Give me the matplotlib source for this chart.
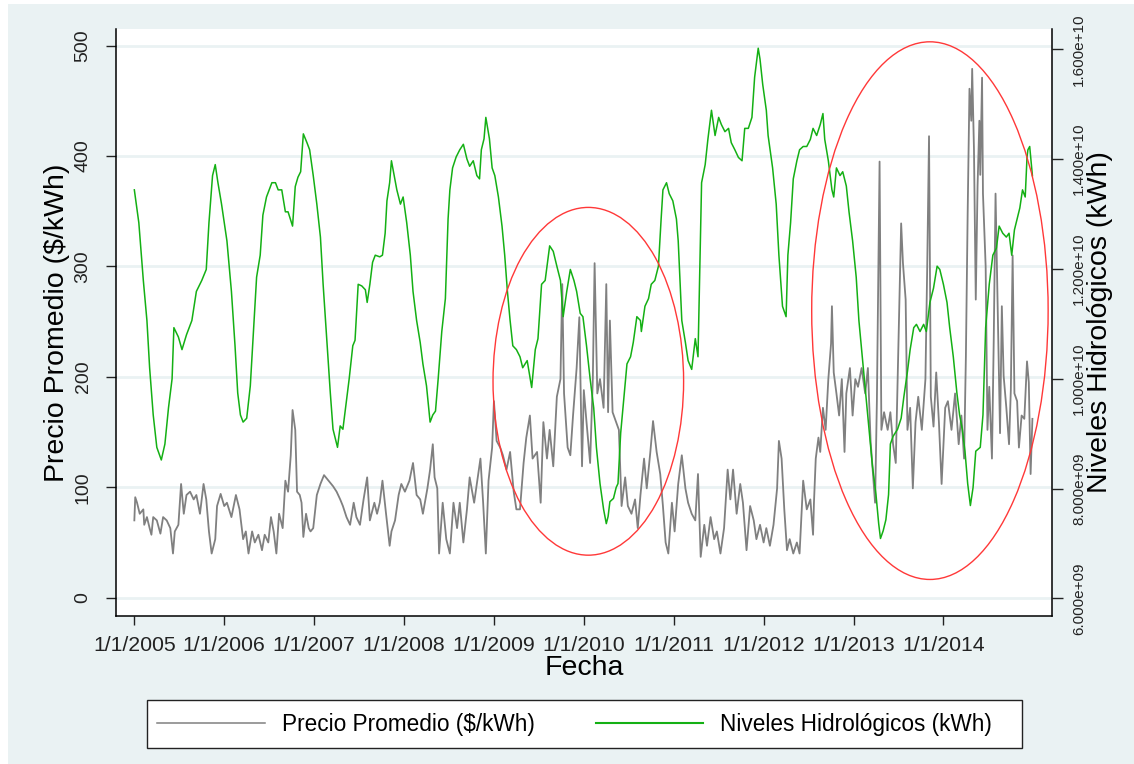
import numpy as np
import pandas as pd
import matplotlib
matplotlib.use("Agg")
import matplotlib.pyplot as plt
import matplotlib.dates as mdates
from matplotlib.patches import Ellipse, Rectangle
from matplotlib.lines import Line2D

plt.rcParams["font.family"] = ["Liberation Sans", "DejaVu Sans"]

# precio promedio ($/kWh), fechas en años decimales
precio_t = [
    2005.00, 2005.01, 2005.03, 2005.06, 2005.10, 2005.11, 2005.14, 2005.17, 2005.19, 2005.21,
    2005.25, 2005.29, 2005.32, 2005.36, 2005.40, 2005.43, 2005.45, 2005.49, 2005.52, 2005.55,
    2005.58, 2005.62, 2005.66, 2005.69, 2005.73, 2005.77, 2005.80, 2005.83, 2005.86, 2005.90,
    2005.92, 2005.96, 2006.00, 2006.03, 2006.08, 2006.13, 2006.17, 2006.21, 2006.24, 2006.27,
    2006.31, 2006.34, 2006.38, 2006.42, 2006.45, 2006.49, 2006.52, 2006.55, 2006.58, 2006.61,
    2006.65, 2006.68, 2006.71, 2006.74, 2006.76, 2006.79, 2006.81, 2006.84, 2006.86, 2006.88,
    2006.91, 2006.94, 2006.96, 2006.99, 2007.03, 2007.07, 2007.11, 2007.16, 2007.21, 2007.25,
    2007.29, 2007.32, 2007.36, 2007.40, 2007.44, 2007.47, 2007.51, 2007.55, 2007.59, 2007.62,
    2007.67, 2007.70, 2007.73, 2007.76, 2007.80, 2007.84, 2007.86, 2007.90, 2007.94, 2007.97,
    2008.01, 2008.06, 2008.10, 2008.14, 2008.18, 2008.21, 2008.26, 2008.29, 2008.32, 2008.34,
    2008.37, 2008.39, 2008.43, 2008.47, 2008.51, 2008.55, 2008.59, 2008.62, 2008.66, 2008.70,
    2008.73, 2008.78, 2008.81, 2008.85, 2008.88, 2008.91, 2008.94, 2008.98, 2009.00, 2009.03,
    2009.07, 2009.10, 2009.14, 2009.18, 2009.22, 2009.25, 2009.29, 2009.33, 2009.36, 2009.40,
    2009.43, 2009.48, 2009.52, 2009.55, 2009.59, 2009.62, 2009.66, 2009.70, 2009.74, 2009.76,
    2009.78, 2009.82, 2009.85, 2009.88, 2009.92, 2009.95, 2009.98, 2010.00, 2010.03, 2010.07,
    2010.10, 2010.12, 2010.15, 2010.18, 2010.22, 2010.25, 2010.27, 2010.29, 2010.32, 2010.36,
    2010.39, 2010.42, 2010.46, 2010.49, 2010.53, 2010.57, 2010.60, 2010.63, 2010.67, 2010.70,
    2010.74, 2010.77, 2010.81, 2010.85, 2010.88, 2010.91, 2010.94, 2010.98, 2011.01, 2011.05,
    2011.09, 2011.13, 2011.16, 2011.20, 2011.24, 2011.27, 2011.30, 2011.34, 2011.37, 2011.41,
    2011.45, 2011.48, 2011.52, 2011.56, 2011.60, 2011.63, 2011.66, 2011.70, 2011.74, 2011.77,
    2011.81, 2011.85, 2011.89, 2011.92, 2011.96, 2012.00, 2012.03, 2012.07, 2012.11, 2012.15,
    2012.17, 2012.20, 2012.23, 2012.26, 2012.29, 2012.33, 2012.37, 2012.40, 2012.44, 2012.48,
    2012.52, 2012.55, 2012.56, 2012.58, 2012.61, 2012.63, 2012.66, 2012.69, 2012.72, 2012.75,
    2012.76, 2012.78, 2012.81, 2012.84, 2012.87, 2012.90, 2012.92, 2012.96, 2012.99, 2013.02,
    2013.05, 2013.09, 2013.13, 2013.16, 2013.19, 2013.22, 2013.24, 2013.26, 2013.29, 2013.31,
    2013.34, 2013.38, 2013.41, 2013.44, 2013.47, 2013.50, 2013.53, 2013.55, 2013.58, 2013.60,
    2013.63, 2013.66, 2013.69, 2013.72, 2013.76, 2013.80, 2013.82, 2013.84, 2013.86, 2013.89,
    2013.92, 2013.95, 2013.98, 2014.02, 2014.05, 2014.09, 2014.13, 2014.17, 2014.20, 2014.23,
    2014.25, 2014.27, 2014.29, 2014.31, 2014.32, 2014.34, 2014.36, 2014.38, 2014.40, 2014.41,
    2014.43, 2014.44, 2014.47, 2014.49, 2014.51, 2014.54, 2014.56, 2014.58, 2014.60, 2014.63,
    2014.65, 2014.67, 2014.70, 2014.73, 2014.75, 2014.77, 2014.79, 2014.82, 2014.84, 2014.87,
    2014.90, 2014.93, 2014.95, 2014.97, 2014.99,
]
precio = [
    70, 91, 86, 76, 80, 66, 73, 63, 57, 73,
    70, 58, 73, 70, 63, 40, 60, 66, 103, 76,
    93, 96, 89, 93, 76, 103, 89, 60, 40, 53,
    83, 94, 83, 86, 73, 93, 80, 53, 60, 40,
    60, 50, 57, 43, 57, 50, 73, 60, 40, 76,
    63, 106, 96, 129, 170, 152, 96, 93, 86, 55,
    76, 63, 60, 63, 93, 103, 111, 106, 101, 96,
    89, 83, 73, 66, 86, 73, 66, 89, 109, 70,
    86, 76, 86, 106, 76, 47, 60, 70, 93, 103,
    96, 106, 122, 93, 89, 76, 99, 116, 139, 109,
    99, 40, 86, 53, 40, 86, 63, 86, 50, 80,
    109, 86, 103, 126, 86, 40, 106, 136, 178, 142,
    136, 129, 116, 132, 96, 80, 80, 122, 145, 165,
    126, 132, 86, 159, 126, 152, 119, 182, 198, 284,
    185, 136, 129, 165, 208, 254, 119, 188, 159, 122,
    198, 303, 185, 198, 172, 284, 168, 251, 168, 159,
    152, 83, 109, 83, 76, 89, 63, 93, 126, 99,
    132, 160, 132, 112, 83, 50, 40, 86, 60, 103,
    129, 99, 86, 76, 70, 112, 37, 66, 47, 73,
    53, 60, 40, 63, 116, 89, 116, 76, 103, 86,
    43, 83, 70, 53, 66, 50, 63, 47, 66, 99,
    142, 126, 80, 43, 53, 40, 50, 40, 106, 80,
    89, 57, 86, 126, 145, 132, 172, 152, 198, 230,
    264, 204, 185, 165, 198, 132, 185, 208, 165, 198,
    191, 208, 185, 208, 142, 109, 86, 178, 395, 152,
    168, 152, 168, 139, 122, 230, 339, 303, 270, 152,
    172, 99, 159, 182, 152, 198, 300, 418, 182, 155,
    204, 159, 103, 172, 178, 152, 185, 139, 165, 126,
    218, 349, 461, 432, 479, 406, 270, 373, 432, 383,
    471, 366, 300, 152, 191, 126, 234, 366, 281, 149,
    264, 201, 172, 139, 188, 310, 185, 178, 136, 165,
    162, 214, 195, 112, 162,
]

# niveles hidrológicos (kWh, en unidades de 1e9)
niveles_t = [
    2005.00, 2005.05, 2005.10, 2005.14, 2005.17, 2005.21, 2005.25, 2005.30, 2005.34, 2005.38,
    2005.42, 2005.44, 2005.49, 2005.53, 2005.58, 2005.64, 2005.69, 2005.75, 2005.80, 2005.83,
    2005.87, 2005.90, 2005.93, 2005.97, 2006.03, 2006.08, 2006.12, 2006.15, 2006.18, 2006.21,
    2006.25, 2006.29, 2006.32, 2006.36, 2006.40, 2006.43, 2006.47, 2006.53, 2006.57, 2006.60,
    2006.64, 2006.68, 2006.71, 2006.76, 2006.79, 2006.82, 2006.85, 2006.88, 2006.92, 2006.95,
    2006.99, 2007.03, 2007.07, 2007.10, 2007.14, 2007.18, 2007.21, 2007.26, 2007.29, 2007.32,
    2007.35, 2007.39, 2007.43, 2007.455, 2007.49, 2007.53, 2007.57, 2007.59, 2007.62, 2007.65,
    2007.68, 2007.73, 2007.76, 2007.79, 2007.81, 2007.84, 2007.86, 2007.89, 2007.92, 2007.96,
    2007.99, 2008.03, 2008.07, 2008.10, 2008.14, 2008.18, 2008.21, 2008.25, 2008.29, 2008.32,
    2008.35, 2008.38, 2008.42, 2008.46, 2008.49, 2008.51, 2008.54, 2008.58, 2008.62, 2008.66,
    2008.70, 2008.73, 2008.77, 2008.81, 2008.84, 2008.86, 2008.89, 2008.91, 2008.95, 2008.98,
    2009.01, 2009.05, 2009.09, 2009.12, 2009.15, 2009.18, 2009.21, 2009.25, 2009.29, 2009.32,
    2009.37, 2009.42, 2009.46, 2009.49, 2009.53, 2009.57, 2009.62, 2009.66, 2009.70, 2009.74,
    2009.77, 2009.81, 2009.85, 2009.89, 2009.92, 2009.96, 2009.99, 2010.03, 2010.07, 2010.11,
    2010.14, 2010.18, 2010.22, 2010.25, 2010.27, 2010.29, 2010.33, 2010.36, 2010.38, 2010.41,
    2010.45, 2010.48, 2010.52, 2010.55, 2010.59, 2010.63, 2010.64, 2010.68, 2010.72, 2010.75,
    2010.79, 2010.83, 2010.86, 2010.88, 2010.92, 2010.95, 2010.99, 2011.03, 2011.05, 2011.09,
    2011.13, 2011.16, 2011.20, 2011.24, 2011.27, 2011.31, 2011.35, 2011.38, 2011.42, 2011.46,
    2011.50, 2011.53, 2011.57, 2011.61, 2011.64, 2011.68, 2011.72, 2011.76, 2011.79, 2011.83,
    2011.87, 2011.90, 2011.94, 2011.96, 2011.99, 2012.03, 2012.05, 2012.10, 2012.14, 2012.17,
    2012.21, 2012.25, 2012.27, 2012.30, 2012.33, 2012.37, 2012.40, 2012.44, 2012.48, 2012.52,
    2012.55, 2012.59, 2012.63, 2012.66, 2012.68, 2012.72, 2012.76, 2012.78, 2012.81, 2012.85,
    2012.88, 2012.92, 2012.95, 2012.99, 2013.03, 2013.06, 2013.09, 2013.12, 2013.15, 2013.18,
    2013.21, 2013.25, 2013.28, 2013.30, 2013.33, 2013.36, 2013.39, 2013.41, 2013.44, 2013.49,
    2013.53, 2013.56, 2013.60, 2013.63, 2013.67, 2013.70, 2013.74, 2013.78, 2013.81, 2013.85,
    2013.89, 2013.93, 2013.96, 2014.00, 2014.04, 2014.07, 2014.11, 2014.15, 2014.18, 2014.21,
    2014.24, 2014.27, 2014.30, 2014.33, 2014.36, 2014.41, 2014.44, 2014.47, 2014.51, 2014.55,
    2014.59, 2014.62, 2014.66, 2014.70, 2014.73, 2014.76, 2014.79, 2014.82, 2014.85, 2014.88,
    2014.91, 2014.93, 2014.94, 2014.96, 2014.99,
]
niveles_e9 = [
    13.44, 12.84, 11.79, 11.06, 10.20, 9.34, 8.75, 8.52, 8.81, 9.47,
    10.00, 10.93, 10.76, 10.53, 10.80, 11.06, 11.59, 11.79, 11.99, 12.84,
    13.70, 13.90, 13.57, 13.18, 12.51, 11.59, 10.60, 9.74, 9.34, 9.21,
    9.28, 9.87, 10.73, 11.85, 12.25, 12.98, 13.31, 13.57, 13.57, 13.44,
    13.44, 13.04, 13.04, 12.78, 13.50, 13.67, 13.77, 14.46, 14.30, 14.17,
    13.70, 13.18, 12.58, 11.72, 10.73, 9.74, 9.08, 8.75, 9.14, 9.08,
    9.47, 10.00, 10.60, 10.70, 11.72, 11.69, 11.62, 11.39, 11.72, 12.12,
    12.25, 12.22, 12.25, 12.65, 13.24, 13.57, 13.97, 13.70, 13.44, 13.18,
    13.31, 12.84, 12.25, 11.59, 11.06, 10.66, 10.27, 9.87, 9.21, 9.34,
    9.41, 10.00, 10.86, 11.46, 12.91, 13.44, 13.84, 14.04, 14.17, 14.27,
    14.00, 13.87, 13.97, 13.70, 13.64, 14.17, 14.37, 14.76, 14.37, 13.84,
    13.70, 13.31, 12.78, 12.25, 11.59, 11.06, 10.60, 10.53, 10.40, 10.20,
    10.33, 9.84, 10.53, 10.73, 11.72, 11.79, 12.42, 12.32, 12.05, 11.79,
    11.13, 11.59, 11.99, 11.79, 11.59, 11.19, 11.13, 10.60, 10.00, 9.47,
    8.75, 8.09, 7.62, 7.36, 7.49, 7.76, 7.82, 8.02, 8.09, 9.01,
    9.74, 10.27, 10.40, 10.66, 11.13, 11.06, 10.86, 11.32, 11.46, 11.72,
    11.79, 12.05, 12.91, 13.44, 13.57, 13.37, 13.24, 12.91, 12.51, 11.06,
    10.66, 10.33, 10.17, 10.73, 10.40, 13.57, 13.90, 14.36, 14.89, 14.43,
    14.76, 14.63, 14.50, 14.56, 14.30, 14.17, 14.03, 13.97, 14.56, 14.56,
    14.76, 15.49, 16.02, 15.82, 15.36, 14.89, 14.43, 13.84, 13.18, 12.25,
    11.32, 11.13, 12.25, 12.84, 13.64, 13.97, 14.17, 14.23, 14.23, 14.36,
    14.56, 14.43, 14.63, 14.83, 14.36, 13.97, 13.44, 13.31, 13.84, 13.70,
    13.77, 13.51, 13.04, 12.51, 11.85, 11.06, 10.53, 10.00, 9.47, 8.95,
    8.42, 7.89, 7.36, 7.09, 7.23, 7.43, 7.89, 8.81, 8.95, 9.08,
    9.28, 9.67, 10.13, 10.53, 10.93, 10.99, 10.86, 10.99, 10.86, 11.39,
    11.65, 12.05, 11.99, 11.72, 11.39, 10.93, 10.40, 9.74, 9.34, 9.08,
    8.68, 8.09, 7.69, 8.02, 8.68, 8.75, 9.34, 10.93, 11.72, 12.25,
    12.38, 12.78, 12.65, 12.58, 12.65, 12.25, 12.71, 12.91, 13.11, 13.44,
    13.31, 14.03, 14.17, 14.23, 13.70,
]

year_ticks = list(range(2005, 2015))
year_labels = ["1/1/%d" % y for y in year_ticks]
left_ticks = [0, 100, 200, 300, 400, 500]
right_ticks = [6e9, 8e9, 1e10, 1.2e10, 1.4e10, 1.6e10]
right_labels = ["6.000e+09", "8.000e+09", "1.000e+10", "1.200e+10", "1.400e+10", "1.600e+10"]

# elipses rojas: (centro año, centro precio, ancho años, alto precio)
elipses = [(2010.05, 196, 2.12, 315), (2013.85, 260, 2.63, 487)]


def to_dates(t):
    t = np.asarray(t, dtype=float)
    return pd.Timestamp("2005-01-01") + pd.to_timedelta((t - 2005) * 365.25, unit="D")


W, H = 1134, 764
GRIS = "#808080"
VERDE = "#14b014"

fig = plt.figure(figsize=(W / 100, H / 100), dpi=100, facecolor="white")
fig.add_artist(Rectangle((8 / W, 0), 1 - 8 / W, (H - 4) / H, transform=fig.transFigure,
                         facecolor="#eaf2f3", edgecolor="none", zorder=-10))

ax1 = fig.add_axes([116 / W, 148 / H, 936 / W, 587 / H])
ax1.set_facecolor("white")
ax2 = ax1.twinx()

ax1.plot(to_dates(precio_t), precio, color=GRIS, lw=1.3)
ax2.plot(to_dates(niveles_t), np.array(niveles_e9) * 1e9, color=VERDE, lw=1.1)

ax1.set_xlim(to_dates([2004.796, 2015.208]))
ax1.set_ylim(-16.6, 515.1)
ax2.set_ylim(5.678e9, 16.37e9)

ax1.set_yticks(left_ticks)
ax1.set_yticklabels([str(v) for v in left_ticks], rotation=90, va="center")
ax2.set_yticks(right_ticks)
ax2.set_yticklabels(right_labels, rotation=90, va="center")
ax1.set_xticks(to_dates(year_ticks))
ax1.set_xticklabels(year_labels)

ax1.yaxis.grid(True, color="#eaf2f3", lw=2)
ax1.set_axisbelow(True)

for ax in (ax1, ax2):
    ax.spines["top"].set_visible(False)
ax1.spines["right"].set_visible(False)
ax2.spines["left"].set_visible(False)
ax2.spines["bottom"].set_visible(False)
for sp in ("left", "bottom"):
    ax1.spines[sp].set_linewidth(1.1)
ax2.spines["right"].set_linewidth(1.1)

ax1.tick_params(axis="y", length=7.5, width=1, labelsize=14, pad=10, colors="#222222")
ax1.tick_params(axis="x", length=6.5, width=1, labelsize=15.3, pad=8, colors="#222222")
ax2.tick_params(axis="y", length=8, width=1, labelsize=11, pad=6.5, colors="#222222")

ax1.set_xlabel("Fecha", fontsize=20.5, va="center")
ax1.xaxis.set_label_coords(0.5, (616 - 668) / 587)
ax1.set_ylabel("Precio Promedio ($/kWh)", fontsize=20.5, va="center", rotation=90)
ax1.yaxis.set_label_coords((57 - 116) / 936, 0.5)
ax2.set_ylabel("Niveles Hidrológicos (kWh)", fontsize=20.5, va="center", rotation=90)
ax2.yaxis.set_label_coords((1100 - 116) / 936, 0.5)

for cx, cy, w, h in elipses:
    cdate = mdates.date2num(to_dates([cx])[0])
    e = Ellipse((cdate, cy), w * 365.25, h, transform=ax1.transData,
                facecolor="none", edgecolor="#ff3838", lw=1.0, zorder=5)
    ax2.add_patch(e)

# leyenda: recuadro propio y entradas sin marco
fig.add_artist(Rectangle((147 / W, 16 / H), 875 / W, 48 / H, transform=fig.transFigure,
                         facecolor="white", edgecolor="#222222", lw=1.0, zorder=1))
handles = [Line2D([], [], color=GRIS, lw=1.1), Line2D([], [], color=VERDE, lw=1.5)]
leg = fig.legend(handles, ["Precio Promedio ($/kWh)", "Niveles Hidrológicos (kWh)"],
                 loc="center left", bbox_to_anchor=(157 / W, 40 / H), ncol=2,
                 frameon=False, fontsize=16.3, handlelength=4.75, handletextpad=0.75,
                 columnspacing=2.7, borderpad=0, borderaxespad=0)
leg.set_zorder(2)

fig.savefig("out.png", dpi=100, facecolor=fig.get_facecolor())
